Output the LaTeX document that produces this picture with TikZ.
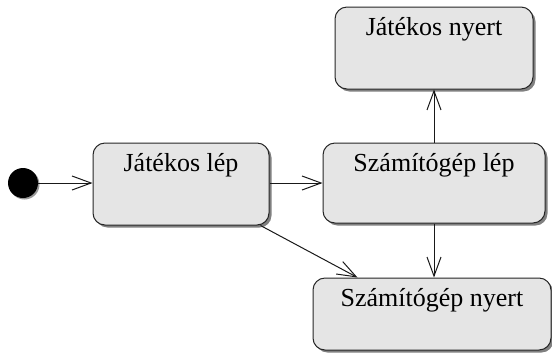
\documentclass[tikz,border=0pt]{standalone}
\usepackage{fontspec}
\setmainfont{Liberation Serif}
\usetikzlibrary{arrows.meta,shadows}
\begin{document}
\begin{tikzpicture}[x=1pt,y=-1pt,
  statebox/.style={draw=black!85,line width=1pt,rounded corners=12pt,fill=black!10,
    inner xsep=0pt,inner ysep=0pt,text height=28pt,
    font=\fontsize{26}{30}\selectfont,
    drop shadow={shadow xshift=2.5pt,shadow yshift=-2.5pt,fill=black!50,opacity=1}},
  initstate/.style={circle,fill=black,minimum size=30pt,inner sep=0pt,
    drop shadow={shadow xshift=1.5pt,shadow yshift=-1.5pt,fill=black!40,opacity=1}},
  trans/.style={line width=1pt,draw=black!90,-{Straight Barb[length=19pt,width=14pt,line width=1pt]}}]
\useasboundingbox (0,0) rectangle (552,360);
\node[initstate] (init) at (23,183) {};
\node[statebox,minimum width=176pt,minimum height=82pt,text depth=54pt] (jl) at (181,184) {Játékos lép};
\node[statebox,minimum width=222pt,minimum height=80pt,text depth=52pt] (sl) at (434,183) {Számítógép lép};
\node[statebox,minimum width=198pt,minimum height=82pt,text depth=54pt] (jn) at (434,48) {Játékos nyert};
\node[statebox,minimum width=238pt,minimum height=72pt,text depth=44pt] (sn) at (432,314) {Számítógép nyert};
\draw[trans] (init.east) -- (jl.west |- init.east);
\draw[trans] (jl.east |- sl.west) -- (sl.west);
\draw[trans] (sl.north) -- (jn.south);
\draw[trans] (sl.south) -- (sl.south |- sn.north);
\coordinate (dstart) at ([xshift=-9pt]jl.south east);
\coordinate (dend) at ([xshift=45pt]sn.north west);
\draw[trans] (dstart) -- (dend);
\end{tikzpicture}
\end{document}
